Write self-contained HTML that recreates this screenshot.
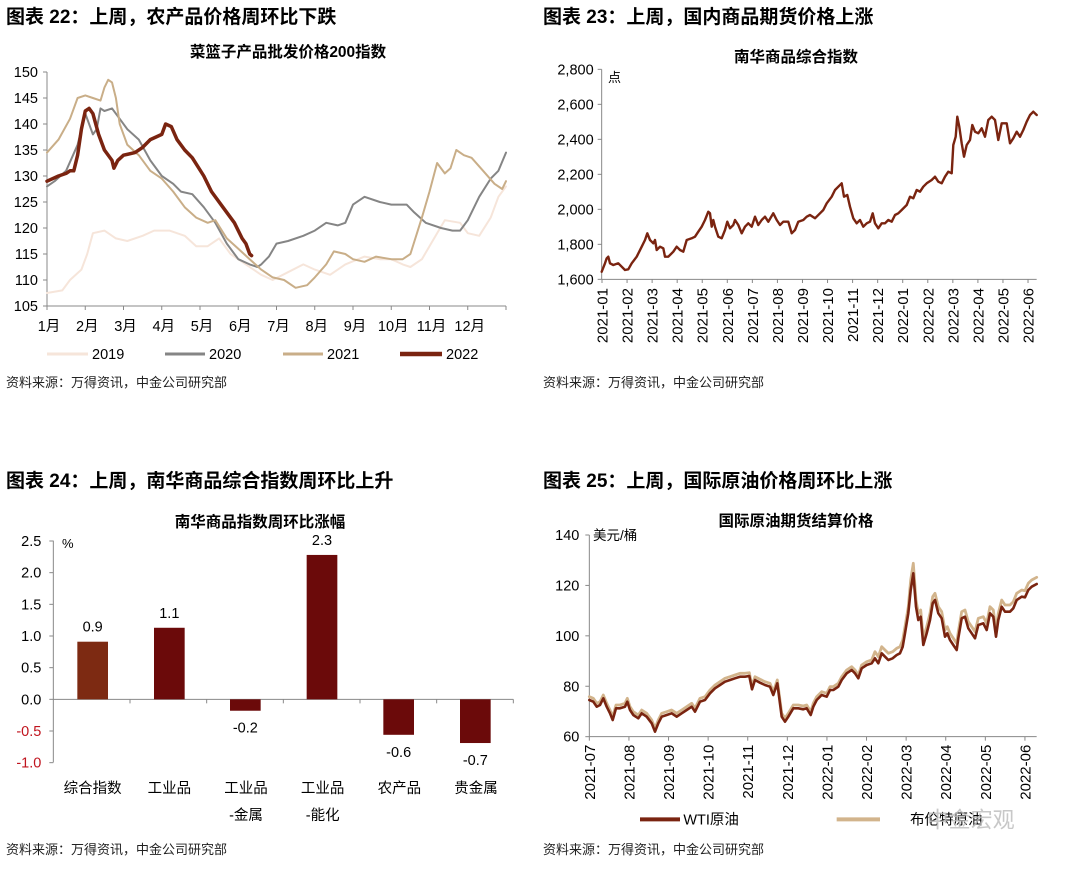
<!DOCTYPE html>
<html><head><meta charset="utf-8">
<style>
html,body{margin:0;padding:0;background:#fff;}
body{width:1080px;height:870px;overflow:hidden;position:relative;font-family:"Liberation Sans","Noto Sans CJK SC",sans-serif;}
svg{position:absolute;left:0;top:0;}
</style></head><body>
<svg id="s" width="1080" height="870" viewBox="0 0 1080 870" xmlns="http://www.w3.org/2000/svg" font-family="Liberation Sans, Noto Sans CJK SC, sans-serif">
<g font-weight="bold" font-size="19" fill="#000">
<text x="6" y="23">图表 22：上周，农产品价格周环比下跌</text>
<text x="543" y="23">图表 23：上周，国内商品期货价格上涨</text>
<text x="6" y="487">图表 24：上周，南华商品综合指数周环比上升</text>
<text x="543" y="487">图表 25：上周，国际原油价格周环比上涨</text>
</g>
<g font-weight="bold" font-size="15.5" fill="#000" text-anchor="middle">
<text x="288" y="57">菜篮子产品批发价格200指数</text>
<text x="796" y="62">南华商品综合指数</text>
<text x="260" y="527">南华商品指数周环比涨幅</text>
<text x="796" y="526">国际原油期货结算价格</text>
</g>
<g font-size="13" fill="#222">
<text x="6" y="387">资料来源：万得资讯，中金公司研究部</text>
<text x="543" y="387">资料来源：万得资讯，中金公司研究部</text>
<text x="6" y="854">资料来源：万得资讯，中金公司研究部</text>
<text x="543" y="854">资料来源：万得资讯，中金公司研究部</text>
</g>
<g id="c22"></g>
<g id="c23"></g>
<g id="c24"></g>
<g id="c25"></g>
</svg>
<script>
function pl(pts,fx,fy,c,w){return '<polyline fill="none" stroke="'+c+'" stroke-width="'+w+'" stroke-linejoin="round" stroke-linecap="round" points="'+pts.map(p=>fx(p[0]).toFixed(1)+','+fy(p[1]).toFixed(1)).join(' ')+'"/>';}
(function(){
var X=m=>47+m*38.25,Y=v=>72+(150-v)*5.2,h='';
h+='<line x1="47" y1="72" x2="47" y2="306" stroke="#888"/><line x1="47" y1="306" x2="506" y2="306" stroke="#888"/>';
for(var v=105;v<=150;v+=5){h+='<line x1="43" x2="47" y1="'+Y(v)+'" y2="'+Y(v)+'" stroke="#888"/><text x="38" y="'+(Y(v)+5)+'" font-size="14.5" text-anchor="end">'+v+'</text>';}
for(var m=0;m<=12;m++){h+='<line x1="'+X(m)+'" x2="'+X(m)+'" y1="306" y2="310" stroke="#888"/>';if(m<12)h+='<text x="'+(X(m)+2)+'" y="331" font-size="14.5" text-anchor="middle">'+(m+1)+'月</text>';}
var d19=[[0,107.5],[0.4,108],[0.6,110],[0.9,112],[1.05,115],[1.2,119],[1.5,119.5],[1.8,118],[2.1,117.5],[2.5,118.5],[2.8,119.5],[3.2,119.5],[3.6,118.5],[3.9,116.5],[4.2,116.5],[4.5,118],[4.8,115],[5.2,113],[5.6,111],[5.9,110],[6.3,111.5],[6.7,113],[7.0,112],[7.4,111],[7.8,113],[8.3,114.5],[8.7,114],[9.0,114],[9.3,113],[9.5,112.5],[9.8,114],[10.2,119],[10.4,121.5],[10.8,121],[11.0,119],[11.3,118.5],[11.6,122],[11.8,126],[12,128]];
var d20=[[0,128],[0.2,129],[0.5,131],[0.8,136],[1.0,142],[1.1,140],[1.2,138],[1.3,139],[1.4,143],[1.5,142.5],[1.7,143],[1.9,141],[2.1,139],[2.4,137],[2.7,133],[3.0,130],[3.3,128.5],[3.5,127],[3.8,126.5],[4.1,124],[4.4,121],[4.7,117],[5.0,114],[5.3,113],[5.5,112.5],[5.6,113],[5.8,114.5],[6.0,117],[6.3,117.5],[6.7,118.5],[7.0,119.5],[7.3,121],[7.6,120.5],[7.8,121],[8.0,124.5],[8.3,126],[8.7,125],[9.0,124.5],[9.4,124.5],[9.6,123],[9.9,121],[10.3,120],[10.6,119.5],[10.8,119.5],[11.0,121.5],[11.3,126],[11.6,129.5],[11.8,131],[12,134.5]];
var d21=[[0,134.5],[0.3,137],[0.6,141],[0.8,145],[1.0,145.5],[1.2,145],[1.4,144.5],[1.5,147],[1.6,148.5],[1.7,148],[1.8,145],[1.9,140],[2.1,136],[2.4,134],[2.7,131],[3.0,129.5],[3.3,127],[3.6,124],[3.9,122],[4.2,121],[4.4,121.5],[4.7,118],[5.0,116],[5.3,114],[5.6,112],[5.9,110.5],[6.2,110],[6.5,108.5],[6.8,109],[7.0,110.5],[7.3,113],[7.5,115.5],[7.8,115],[8.0,114],[8.3,113.5],[8.6,114.5],[9.0,114],[9.3,114],[9.5,115],[9.8,122],[10.0,127],[10.2,132.5],[10.4,130.5],[10.55,131.5],[10.7,135],[10.9,134],[11.1,133.5],[11.4,131],[11.7,128.5],[11.9,127.5],[12,129]];
var d22=[[0,129],[0.3,130],[0.5,130.5],[0.6,131],[0.7,131],[0.8,134],[0.9,139],[1.0,142.5],[1.1,143],[1.2,142],[1.35,138],[1.5,135],[1.7,133],[1.75,131.5],[1.85,133],[2.0,134],[2.3,134.5],[2.5,135.5],[2.7,137],[3.0,138],[3.1,140],[3.25,139.5],[3.4,137],[3.6,135],[3.8,133.5],[4.1,130],[4.3,127],[4.6,124],[4.9,121],[5.1,118],[5.2,117],[5.3,115],[5.35,114.7]];
h+=pl(d19,X,Y,'#F6E5DA',2)+pl(d20,X,Y,'#858585',2)+pl(d21,X,Y,'#C9AE88',2)+pl(d22,X,Y,'#7A2410',3.5);
var lg=[[47,88,'#F6E5DA',2,'2019'],[165,205,'#858585',2,'2020'],[283,323,'#C9AE88',2,'2021'],[400,442,'#7A2410',3.5,'2022']];
lg.forEach(l=>{h+='<line x1="'+l[0]+'" x2="'+l[1]+'" y1="354" y2="354" stroke="'+l[2]+'" stroke-width="'+(l[3]+1)+'"/><text x="'+(l[1]+4)+'" y="359" font-size="14.5">'+l[4]+'</text>';});
document.getElementById('c22').innerHTML=h;
})();
(function(){
var X=z=>540+z/3,Y=z=>z/3,h='';
h+='<line x1="'+X(185)+'" y1="'+Y(208)+'" x2="'+X(185)+'" y2="'+Y(838)+'" stroke="#888"/><line x1="'+X(185)+'" y1="'+Y(838)+'" x2="'+X(1490)+'" y2="'+Y(838)+'" stroke="#888"/>';
var labs=['2,800','2,600','2,400','2,200','2,000','1,800','1,600'];
labs.forEach((l,i)=>{var y=Y(208+i*105);h+='<line x1="'+(X(185)-4)+'" x2="'+X(185)+'" y1="'+y+'" y2="'+y+'" stroke="#888"/><text x="'+(X(185)-8)+'" y="'+(y+5)+'" font-size="14.5" text-anchor="end">'+l+'</text>';});
h+='<text x="608" y="82" font-size="13">点</text>';
for(var i=0;i<18;i++){var x=602+i*25.06;var yr=i<12?2021:2022;var mo=(i<12?i+1:i-11);var t=yr+'-'+(mo<10?'0':'')+mo;
h+='<line x1="'+x+'" x2="'+x+'" y1="279" y2="283" stroke="#888"/><text transform="translate('+(x+5.5)+',288) rotate(-90)" font-size="15" text-anchor="end">'+t+'</text>';}
var p=[[185,815],[195,790],[200,775],[205,770],[210,790],[220,795],[235,790],[245,800],[255,810],[265,808],[275,790],[290,770],[305,740],[315,720],[322,700],[330,720],[340,730],[345,720],[350,750],[360,740],[370,745],[375,770],[385,770],[400,755],[410,740],[420,750],[430,755],[440,720],[455,715],[465,710],[475,695],[485,680],[495,660],[505,635],[510,640],[515,680],[520,660],[525,680],[535,710],[545,715],[555,690],[562,665],[570,685],[580,675],[585,660],[595,675],[605,700],[615,680],[625,670],[635,680],[645,650],[655,675],[665,660],[675,650],[685,665],[700,640],[710,660],[720,675],[730,665],[745,665],[755,700],[765,690],[775,665],[790,660],[800,650],[810,645],[825,655],[840,640],[850,630],[860,610],[875,590],[885,570],[895,560],[905,550],[912,590],[922,585],[930,620],[940,655],[950,670],[960,660],[970,680],[980,670],[990,665],[998,640],[1005,670],[1015,685],[1025,670],[1035,670],[1045,660],[1055,665],[1065,645],[1075,640],[1085,630],[1100,615],[1110,590],[1120,595],[1130,570],[1140,575],[1150,560],[1160,550],[1175,540],[1185,530],[1195,545],[1205,550],[1215,530],[1225,515],[1235,520],[1240,435],[1247,410],[1252,350],[1258,380],[1265,430],[1272,470],[1280,435],[1290,420],[1297,375],[1305,395],[1315,400],[1325,385],[1335,410],[1345,360],[1355,350],[1365,360],[1375,420],[1385,370],[1400,370],[1410,430],[1420,415],[1430,395],[1440,410],[1450,390],[1460,365],[1470,345],[1480,335],[1490,345]];
h+=pl(p,X,Y,'#7A2410',2.4);
document.getElementById('c23').innerHTML=h;
})();
(function(){
var X=z=>z/3,Y=z=>500+z/3,h='';
var V=v=>598-v*190;
h+='<line x1="'+X(160)+'" y1="'+Y(122)+'" x2="'+X(160)+'" y2="'+Y(787)+'" stroke="#888"/><line x1="'+X(160)+'" y1="'+Y(598)+'" x2="'+X(1540)+'" y2="'+Y(598)+'" stroke="#888"/>';
[2.5,2.0,1.5,1.0,0.5,0.0,-0.5,-1.0].forEach(v=>{var y=Y(V(v));h+='<line x1="'+(X(160)-4)+'" x2="'+X(160)+'" y1="'+y+'" y2="'+y+'" stroke="#888"/><text x="'+(X(160)-12)+'" y="'+(y+5)+'" font-size="14.5" text-anchor="end" fill="'+(v<0?'#C0141E':'#000')+'">'+v.toFixed(1)+'</text>';});
h+='<text x="62" y="548" font-size="13">%</text>';
for(var i=1;i<=6;i++){var x=X(160+i*230);h+='<line x1="'+x+'" x2="'+x+'" y1="'+Y(598)+'" y2="'+(Y(598)+4)+'" stroke="#888"/>';}
var bars=[[232,0.91,'#7D2A12','0.9'],[462,1.13,'#6B0A0A','1.1'],[690,-0.18,'#6B0A0A','-0.2'],[920,2.28,'#6B0A0A','2.3'],[1150,-0.56,'#6B0A0A','-0.6'],[1380,-0.69,'#6B0A0A','-0.7']];
bars.forEach(b=>{var y0=V(0),y1=V(b[1]);var top=Math.min(y0,y1),ht=Math.abs(y1-y0);var cx=X(b[0]+46);
h+='<rect x="'+X(b[0])+'" y="'+Y(top)+'" width="'+(92/3)+'" height="'+(ht/3)+'" fill="'+b[2]+'"/>';
var ty=b[1]>0?Y(y1)-10:Y(y1)+22;h+='<text x="'+cx+'" y="'+ty+'" font-size="14.5" text-anchor="middle">'+b[3]+'</text>';});
var cats=[['综合指数',''],['工业品',''],['工业品','-金属'],['工业品','-能化'],['农产品',''],['贵金属','']];
cats.forEach((c,i)=>{var cx=X(278+i*230);h+='<text x="'+cx+'" y="793" font-size="14.5" text-anchor="middle">'+c[0]+'</text>';if(c[1])h+='<text x="'+cx+'" y="820" font-size="14.5" text-anchor="middle">'+c[1]+'</text>';});
document.getElementById('c24').innerHTML=h;
})();
(function(){
var X=z=>540+z/3,Y=z=>460+z/3,h='';
h+='<line x1="'+X(148)+'" y1="'+Y(225)+'" x2="'+X(148)+'" y2="'+Y(830)+'" stroke="#888"/><line x1="'+X(148)+'" y1="'+Y(830)+'" x2="'+X(1490)+'" y2="'+Y(830)+'" stroke="#888"/>';
[140,120,100,80,60].forEach((v,i)=>{var y=Y(225+i*151.25);h+='<line x1="'+(X(148)-4)+'" x2="'+X(148)+'" y1="'+y+'" y2="'+y+'" stroke="#888"/><text x="'+(X(148)-10)+'" y="'+(y+5)+'" font-size="14.5" text-anchor="end">'+v+'</text>';});
h+='<text x="593" y="540" font-size="13.5">美元/桶</text>';
var tl=['2021-07','2021-08','2021-09','2021-10','2021-11','2021-12','2022-01','2022-02','2022-03','2022-04','2022-05','2022-06'];
tl.forEach((t,i)=>{var x=X(148+i*118.8);h+='<line x1="'+x+'" x2="'+x+'" y1="'+Y(830)+'" y2="'+(Y(830)+4)+'" stroke="#888"/><text transform="translate('+(x+5.5)+','+(Y(830)+8)+') rotate(-90)" font-size="15" text-anchor="end">'+t+'</text>';});
var w=[[148,720],[160,725],[170,740],[180,735],[190,715],[200,740],[210,760],[218,780],[228,745],[240,745],[255,740],[262,725],[270,750],[280,765],[295,775],[305,760],[320,770],[335,790],[345,815],[355,790],[365,770],[380,765],[395,760],[410,770],[425,760],[440,750],[455,740],[465,755],[480,725],[495,720],[510,700],[525,685],[540,675],[555,665],[570,660],[585,655],[600,650],[615,650],[628,648],[636,688],[645,660],[660,668],[675,675],[690,680],[700,705],[712,670],[718,715],[725,770],[735,785],[745,770],[760,745],[775,745],[790,748],[800,745],[812,765],[820,740],[830,720],[845,705],[860,710],[870,690],[880,690],[895,680],[905,660],[920,640],[935,630],[945,640],[955,655],[965,625],[980,615],[995,610],[1005,595],[1015,610],[1025,580],[1035,590],[1045,600],[1058,595],[1070,585],[1080,580],[1088,560],[1095,520],[1105,460],[1112,390],[1120,340],[1128,440],[1135,480],[1142,470],[1150,555],[1160,520],[1170,480],[1178,430],[1185,420],[1195,460],[1205,475],[1215,530],[1222,520],[1230,540],[1240,555],[1250,570],[1255,535],[1265,475],[1275,470],[1285,505],[1295,520],[1305,535],[1315,495],[1330,490],[1340,510],[1350,460],[1360,470],[1368,530],[1375,480],[1385,440],[1395,455],[1410,455],[1420,445],[1430,420],[1445,410],[1455,412],[1465,390],[1475,380],[1490,372]];
var b=w.map(p=>{var d=p[0]<1000?10:20;if(p[0]>=1112&&p[0]<=1125)d=30;return [p[0],p[1]-d];});
h+=pl(b,X,Y,'#D2B48C',2.8)+pl(w,X,Y,'#7A2410',2.6);
h+='<line x1="'+X(300)+'" x2="'+X(420)+'" y1="'+Y(1078)+'" y2="'+Y(1078)+'" stroke="#7A2410" stroke-width="4"/><text x="'+X(430)+'" y="'+(Y(1078)+5)+'" font-size="14.5">WTI原油</text>';
h+='<line x1="'+X(890)+'" x2="'+X(1020)+'" y1="'+Y(1078)+'" y2="'+Y(1078)+'" stroke="#D2B48C" stroke-width="4"/><text x="'+X(1110)+'" y="'+(Y(1078)+5)+'" font-size="14.5">布伦特原油</text>';
h+='<text x="'+X(1160)+'" y="'+(Y(1078)+8)+'" font-size="22" fill="#bbb" opacity="0.8">中金宏观</text>';
document.getElementById('c25').innerHTML=h;
})();
</script>
</body></html>
